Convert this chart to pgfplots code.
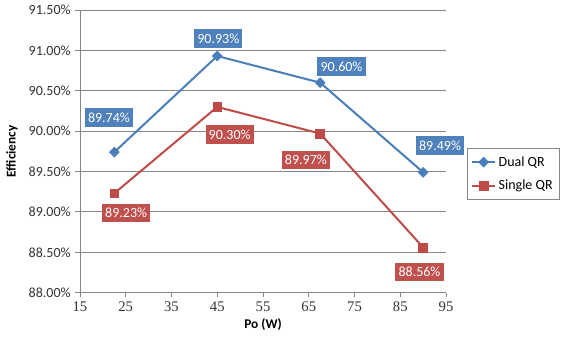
\documentclass[border=0pt]{standalone}
\usepackage{fontspec}
\setmainfont{Carlito}
\newfontfamily\timesfont{Liberation Serif}
\usepackage{pgfplots}
\pgfplotsset{compat=1.18}
\definecolor{dualblue}{HTML}{4A7EBB}
\definecolor{singlered}{HTML}{BE4B48}
\definecolor{labblue}{HTML}{4F81BD}
\definecolor{labred}{HTML}{C0504D}
\definecolor{gridgray}{HTML}{868686}
\pgfplotstableread{
x y dx dy
22.5 89.74 -4 25.8
45 90.93 0.8 13.1
67.5 90.60 16 12.2
90 89.49 12.7 20
}\dualtab
\pgfplotstableread{
x y dx dy
22.5 89.23 8.9 -14.8
45 90.30 9.3 -20.8
67.5 89.97 -10.7 -19.8
90 88.56 -2.7 -18.5
}\singletab
\begin{document}
\begin{tikzpicture}
\useasboundingbox (-60pt,-44.5pt) rectangle (363pt,219.5pt);
\begin{axis}[
  scale only axis, width=274.5pt, height=212pt,
  xmin=15, xmax=95, ymin=88, ymax=91.5,
  xtick={15,25,...,95}, ytick={88,88.5,...,91.5},
  axis x line*=bottom, axis y line*=left,
  axis line style={draw=gridgray, line width=0.6pt, -},
  tick align=outside, major tick length=3.5pt,
  tick style={draw=gridgray, line width=0.6pt},
  ymajorgrids, grid style={draw=gridgray, line width=0.6pt},
  /pgf/number format/assume math mode=true,
  yticklabel={\pgfmathprintnumber[fixed,fixed zerofill,precision=2]{\tick}\%},
  yticklabel style={font=\fontsize{10.5}{12}\selectfont, text=black!80},
  xticklabel={\timesfont\pgfmathprintnumber{\tick}},
  xticklabel style={font=\timesfont\fontsize{11}{12}\selectfont, text=black!80},
  xlabel={\bfseries Po (W)},
  ylabel={\bfseries Efficiency},
  xlabel style={at={(axis description cs:0.5,-0.113)}, anchor=center, font=\fontsize{10}{12}\selectfont},
  ylabel style={at={(axis description cs:-0.186,0.5)}, anchor=center, font=\fontsize{10}{12}\selectfont},
  legend style={at={(1.057,0.512)}, anchor=north west, draw=gridgray, line width=0.6pt,
    font=\fontsize{10.5}{12}\selectfont, row sep=5pt, inner xsep=3pt, inner ysep=4pt},
  legend cell align=left,
  nodes near coords={\pgfmathprintnumber[fixed,fixed zerofill,precision=2]{\pgfplotspointmeta}\%},
  point meta=y,
  visualization depends on={\thisrow{dx}\as\dx},
  visualization depends on={\thisrow{dy}\as\dy},
]
\addplot[dualblue, line width=1.5pt, mark=square*, mark size=2.6pt,
  mark options={rotate=45, line width=0.5pt},
  every node near coord/.append style={anchor=center, xshift=\dx pt, yshift=\dy pt,
    fill=labblue, text=white, inner xsep=2.3pt, inner ysep=3.3pt,
    font=\fontsize{10.5}{12}\selectfont}]
  table[x=x,y=y] {\dualtab};
\addlegendentry{Dual QR}
\addplot[singlered, line width=1.5pt, mark=square*, mark size=3.3pt,
  mark options={line width=0.5pt},
  every node near coord/.append style={anchor=center, xshift=\dx pt, yshift=\dy pt,
    fill=labred, text=white, inner xsep=2.3pt, inner ysep=3.3pt,
    font=\fontsize{10.5}{12}\selectfont}]
  table[x=x,y=y] {\singletab};
\addlegendentry{Single QR}
\end{axis}
\end{tikzpicture}
\end{document}
